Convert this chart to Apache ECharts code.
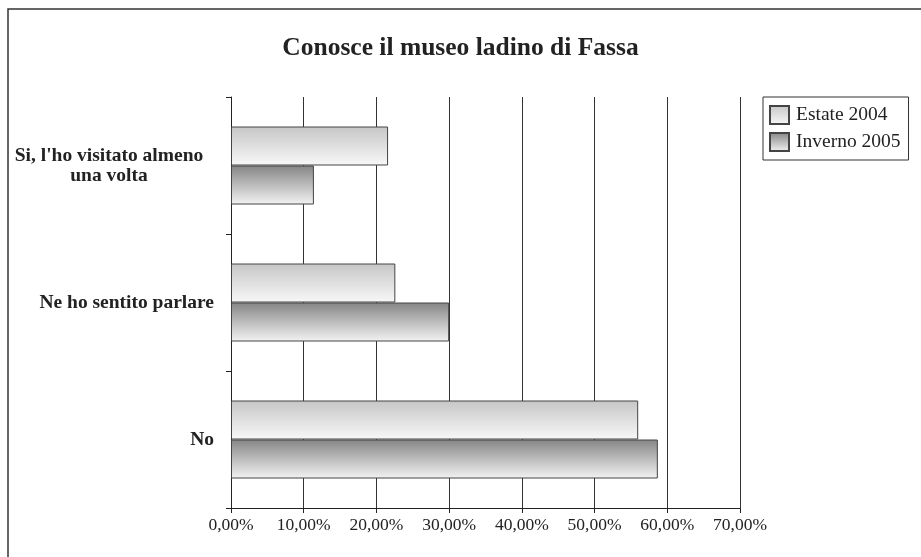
<!DOCTYPE html>
<html lang="it">
<head>
<meta charset="UTF-8">
<title>Conosce il museo ladino di Fassa</title>
<style>
  html, body { margin: 0; padding: 0; background: #fff; }
  #main { width: 921px; height: 557px; }
</style>
</head>
<body>
<div id="main"></div>
<script src="https://cdn.jsdelivr.net/npm/echarts@6/dist/echarts.min.js"></script>
<script>
// categorie dal basso verso l'alto (asse y di ECharts)
var categories = ['No', 'Ne ho sentito parlare', "Si, l'ho visitato almeno\nuna volta"];
var seriesNames = ['Estate 2004', 'Inverno 2005'];
var estate2004 = [56.0, 22.6, 21.6];
var inverno2005 = [58.7, 30.0, 11.4];
var xTicks = [0, 10, 20, 30, 40, 50, 60, 70];

var serif = '"Liberation Serif", "DejaVu Serif", serif';

function grad(top, bottom) {
    return new echarts.graphic.LinearGradient(0, 0, 0, 1, [
        { offset: 0, color: top },
        { offset: 1, color: bottom }
    ]);
}

var myChart = echarts.init(document.getElementById('main'));
var option = {
    backgroundColor: '#fff',
    animation: false,
    title: {
        text: 'Conosce il museo ladino di Fassa',
        left: 'center',
        top: 30,
        textStyle: { fontFamily: serif, fontSize: 25.5, fontWeight: 'bold', color: '#222' }
    },
    graphic: [{
        type: 'rect',
        shape: { x: 8, y: 9, width: 940, height: 600 },
        style: { fill: 'none', stroke: '#333', lineWidth: 1.5 },
        silent: true
    }],
    legend: {
        data: seriesNames,
        orient: 'vertical',
        icon: 'rect',
        left: 763,
        top: 97,
        padding: [8, 8, 8, 6],
        itemGap: 7,
        itemWidth: 19,
        itemHeight: 18,
        borderColor: '#333',
        borderWidth: 1,
        textStyle: { fontFamily: serif, fontSize: 19.5, color: '#222', padding: [0, 0, 0, 2] }
    },
    grid: { left: 231, right: 181, top: 97, bottom: 49 },
    xAxis: {
        type: 'value',
        min: xTicks[0],
        max: xTicks[xTicks.length - 1],
        interval: 10,
        axisLine: { show: true, lineStyle: { color: '#222' } },
        axisTick: { show: true, length: 5, lineStyle: { color: '#222' } },
        splitLine: { show: true, lineStyle: { color: '#333', width: 1 } },
        axisLabel: {
            fontFamily: serif, fontSize: 17.5, color: '#222', margin: 8,
            formatter: function (v) { return v.toFixed(2).replace('.', ',') + '%'; }
        }
    },
    yAxis: {
        type: 'category',
        data: categories,
        axisLine: { show: true, lineStyle: { color: '#222' } },
        axisTick: { show: true, length: 5, lineStyle: { color: '#222' } },
        axisLabel: {
            fontFamily: serif, fontSize: 19.5, fontWeight: 'bold', color: '#222',
            margin: 17, lineHeight: 20,
            formatter: function (v) {
                if (v.indexOf('\n') < 0) return v;
                return v.split('\n').map(function (s) { return '{m|' + s + '}'; }).join('\n');
            },
            rich: {
                m: {
                    fontFamily: serif, fontSize: 19.5, fontWeight: 'bold', color: '#222',
                    width: 210, align: 'center', lineHeight: 20
                }
            }
        }
    },
    series: [
        {
            name: seriesNames[0],
            type: 'bar',
            data: estate2004,
            barWidth: 39,
            barGap: '0%',
            itemStyle: { color: grad('#c6c6c6', '#f8f8f8'), borderColor: '#444', borderWidth: 1 }
        },
        {
            name: seriesNames[1],
            type: 'bar',
            data: inverno2005,
            barWidth: 39,
            barGap: '0%',
            itemStyle: { color: grad('#858585', '#f3f3f3'), borderColor: '#444', borderWidth: 1 }
        }
    ]
};
myChart.setOption(option);
</script>
</body>
</html>
